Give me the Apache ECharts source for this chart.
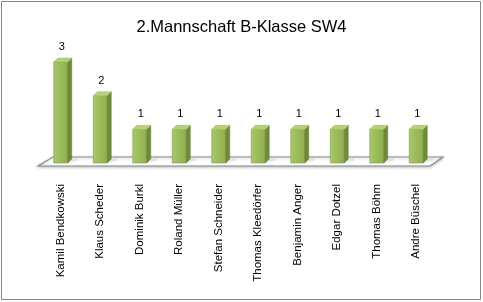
<!DOCTYPE html>
<html>
<head>
<meta charset="utf-8">
<script src="https://cdn.jsdelivr.net/npm/echarts@6/dist/echarts.min.js"></script>
<style>
html,body{margin:0;padding:0;background:#fff;}
#c{width:483px;height:302px;}
</style>
</head>
<body>
<div id="c"></div>
<script>
const titleText = "2.Mannschaft B-Klasse SW4";
const categories = ["Kamil Bendkowski","Klaus Scheder","Dominik Burkl","Roland Müller","Stefan Schneider","Thomas Kleedörfer","Benjamin Anger","Edgar Dotzel","Thomas Böhm","Andre Büschel"];
const values = [3,2,1,1,1,1,1,1,1,1];

const chart = echarts.init(document.getElementById('c'), null, {renderer:'canvas'});
const BW = 14, DX = 4, DY = 4;

chart.setOption({
  animation:false,
  backgroundColor:'#fff',
  title:{text:titleText,left:'center',top:14,textStyle:{fontFamily:'Liberation Sans',fontSize:16.5,fontWeight:'normal',color:'#000'}},
  graphic:[{type:'rect',shape:{x:1.5,y:1.5,width:479,height:298},style:{fill:null,stroke:'#878787',lineWidth:1},silent:true}],
  grid:{left:41,right:47,top:62,bottom:139,containLabel:false},
  xAxis:{type:'category',data:categories,axisLine:{show:false},axisTick:{show:false},
    axisLabel:{rotate:90,margin:21,fontFamily:'Liberation Sans',fontSize:11.5,color:'#000',interval:0}},
  yAxis:{type:'value',min:0,max:3,show:false,splitLine:{show:false}},
  series:[
    {type:'custom',silent:true,z:1,data:[[0,0]],
     renderItem:function(params,api){
       const cs = params.coordSys;
       const base = api.coord([0,0])[1];
       const fy = base+3, by = base-6;
       const fl = cs.x-3, fr = cs.x+cs.width-6;
       const d = 15;
       return {type:'polygon',shape:{points:[[fl,fy],[fr,fy],[fr+d-2,by],[fl+d,by]]},
         style:{fill:'#fff',stroke:'#8c8c8c',lineWidth:1.2,shadowBlur:3,shadowColor:'rgba(0,0,0,0.25)',shadowOffsetY:1}};
     }},
    {type:'custom',z:2,data:values.map((v,i)=>[i,v]),
     renderItem:function(params,api){
       const i = api.value(0), v = api.value(1);
       const t = api.coord([i,v]), b = api.coord([i,0]);
       const l = t[0]-BW/2, r = t[0]+BW/2, ty = t[1], by = b[1];
       return {type:'group',children:[
         {type:'polygon',shape:{points:[[r,by],[r+DX+6,by-2],[r+DX+6,by-5],[r+DX,by-DY]]},style:{fill:'rgba(0,0,0,0.08)'}},
         {type:'rect',shape:{x:l,y:ty,width:BW,height:by-ty},
          style:{fill:new echarts.graphic.LinearGradient(0,0,1,0,[{offset:0,color:'#a9c96a'},{offset:0.5,color:'#9bbb59'},{offset:1,color:'#8fae4f'}]),stroke:'#7f9c43',lineWidth:0.6}},
         {type:'polygon',shape:{points:[[r,ty],[r+DX,ty-DY],[r+DX,by-DY],[r,by]]},style:{fill:'#6f8a38',stroke:'#667f33',lineWidth:0.5}},
         {type:'polygon',shape:{points:[[l,ty],[l+DX,ty-DY],[r+DX,ty-DY],[r,ty]]},style:{fill:'#b7d07e',stroke:'#9fbc5f',lineWidth:0.5}},
         {type:'text',style:{text:String(v),x:t[0]+1,y:ty-15,align:'center',verticalAlign:'middle',fontFamily:'Liberation Sans',fontSize:11,fill:'#000'}}
       ]};
     }}
  ]
});
</script>
</body>
</html>
